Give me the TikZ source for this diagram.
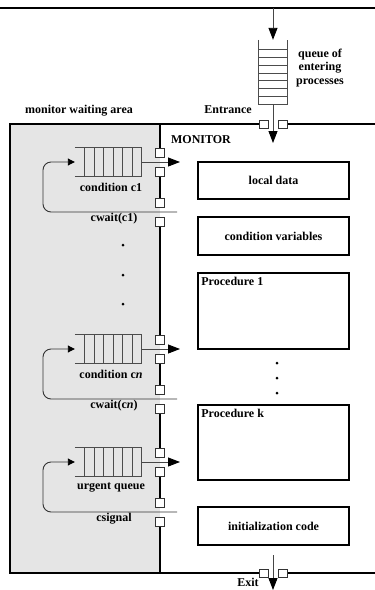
\documentclass[tikz,border=0pt]{standalone}
\usepackage{fontspec}
\setmainfont{Liberation Serif}
\usetikzlibrary{arrows.meta,calc}

\tikzset{
  wallthick/.style={line width=2pt},
  wallthin/.style={line width=1.3pt},
  rung/.style={gray!60!black, line width=0.8pt},
  flow/.style={gray!55!black, line width=0.9pt, -{Triangle[length=12pt,width=9pt,color=black]}},
  loopback/.style={black!80, line width=0.9pt, rounded corners=8pt, -{Triangle[length=7pt,width=7pt,color=black]}},
  gate/.style={black!80, fill=white, line width=0.8pt},
  condq/.style={minimum width=67pt, minimum height=29pt, inner sep=0pt},
  part/.style={draw, line width=1.6pt, minimum width=151pt, inner sep=0pt},
  lbl/.style={inner sep=2pt}
}

\begin{document}
\begin{tikzpicture}[x=1pt, y={(0pt,-1pt)}, font=\bfseries\fontsize{12}{13.5}\selectfont]
\useasboundingbox (0,0) rectangle (375,590);
% waiting area and walls
\fill[gray!20] (10,124) rectangle (160,573);
\draw[wallthick] (0,8) -- (375,8);
\draw[wallthick] (259,124) -- (10,124) -- (10,573) -- (259,573);
\draw[wallthick] (287,124) -- (375,124);
\draw[wallthick] (287,573) -- (375,573);
\foreach \s/\e in {124/148, 176/198, 226/335, 363/385, 413/448, 476/498, 526/573}
  \draw[wallthin] (160,\s) -- (160,\e);

% entering queue
\node[minimum width=28pt, minimum height=64pt, inner sep=0pt] (qe) at (273,72) {};
\draw[rung] (qe.north west) -- (qe.south west) -- (qe.south east) -- (qe.north east);
\foreach \k in {0,...,6}
  \draw[rung] ($(qe.north west)+(0,10+\k*7.7)$) -- ++(28,0);
\coordinate (top) at (273,8);
\coordinate (enter) at (273,143);
\draw[flow] (top) -- (qe.north);
\draw[flow] (qe.south) -- (enter);
\draw[gate] (259,120) rectangle (268,128) (278,120) rectangle (287,128);
\node[lbl, align=center] (qtxt) at (320,68) {queue of\\entering\\processes};
\node[lbl, anchor=east] (ent) at (254,110) {Entrance};
\node[lbl] (wait) at (79,111) {monitor waiting area};
\node[lbl] (mon) at (201,140) {MONITOR};

% condition queues
\foreach \q/\a/\L/\qtext/\wtext in {q1/162/212/{condition c1}/{cwait(c1)},
    qn/349/399/{condition c\emph{n}}/{cwait(c\emph{n})},
    qu/462/512/{urgent queue}/{csignal}} {
  \node[condq] (\q) at (108.5,\a) {};
  \draw[rung] (\q.north west) -- (\q.north east) (\q.south west) -- (\q.south east);
  \foreach \k in {0,...,6}
    \draw[rung] ($(\q.north west)+(10+\k*9.5,0)$) -- ++(0,29);
  \coordinate (\q-in) at (180,\a);
  \coordinate (\q-out) at (177,\L);
  \coordinate (\q-turn) at (43,\L);
  \draw[flow] (\q.east) -- (\q-in);
  \draw[loopback] (\q-out) -- (\q-turn) |- (\q.west);
  \draw[gate] (155.5,\a-14) rectangle (164.5,\a-5) (155.5,\a+5) rectangle (164.5,\a+14);
  \draw[gate] (155.5,\L-14) rectangle (164.5,\L-5) (155.5,\L+5) rectangle (164.5,\L+14);
  \node[lbl] (\q-name) at (111,\a+25) {\qtext};
  \node[lbl] (\q-wait) at (114,\L+7) {\wtext};
}
\fill (123,245) circle (1.5) (123,275) circle (1.5) (123,304) circle (1.5);

% monitor parts
\node[part, minimum height=37pt] (local) at (273.5,180.5) {local data};
\node[part, minimum height=38pt] (condvar) at (273.5,236) {condition variables};
\node[part, minimum height=76pt] (proc1) at (273.5,311) {};
\node[lbl, anchor=north west] (proc1t) at ([shift={(2,3)}]proc1.north west) {Procedure 1};
\fill (277,363) circle (1.5) (277,378) circle (1.5) (277,393) circle (1.5);
\node[part, minimum height=75pt] (prock) at (273.5,442.5) {};
\node[lbl, anchor=north west] (prockt) at ([shift={(2,3)}]prock.north west) {Procedure k};
\node[part, minimum height=38pt] (init) at (273.5,526) {initialization code};

% exit
\coordinate (exitfrom) at (273,555);
\coordinate (exitto) at (273,590);
\draw[flow] (exitfrom) -- (exitto);
\draw[gate] (259,569) rectangle (268,577) (278,569) rectangle (287,577);
\node[lbl, anchor=south] (exit) at (248,589) {Exit};
\end{tikzpicture}
\end{document}
